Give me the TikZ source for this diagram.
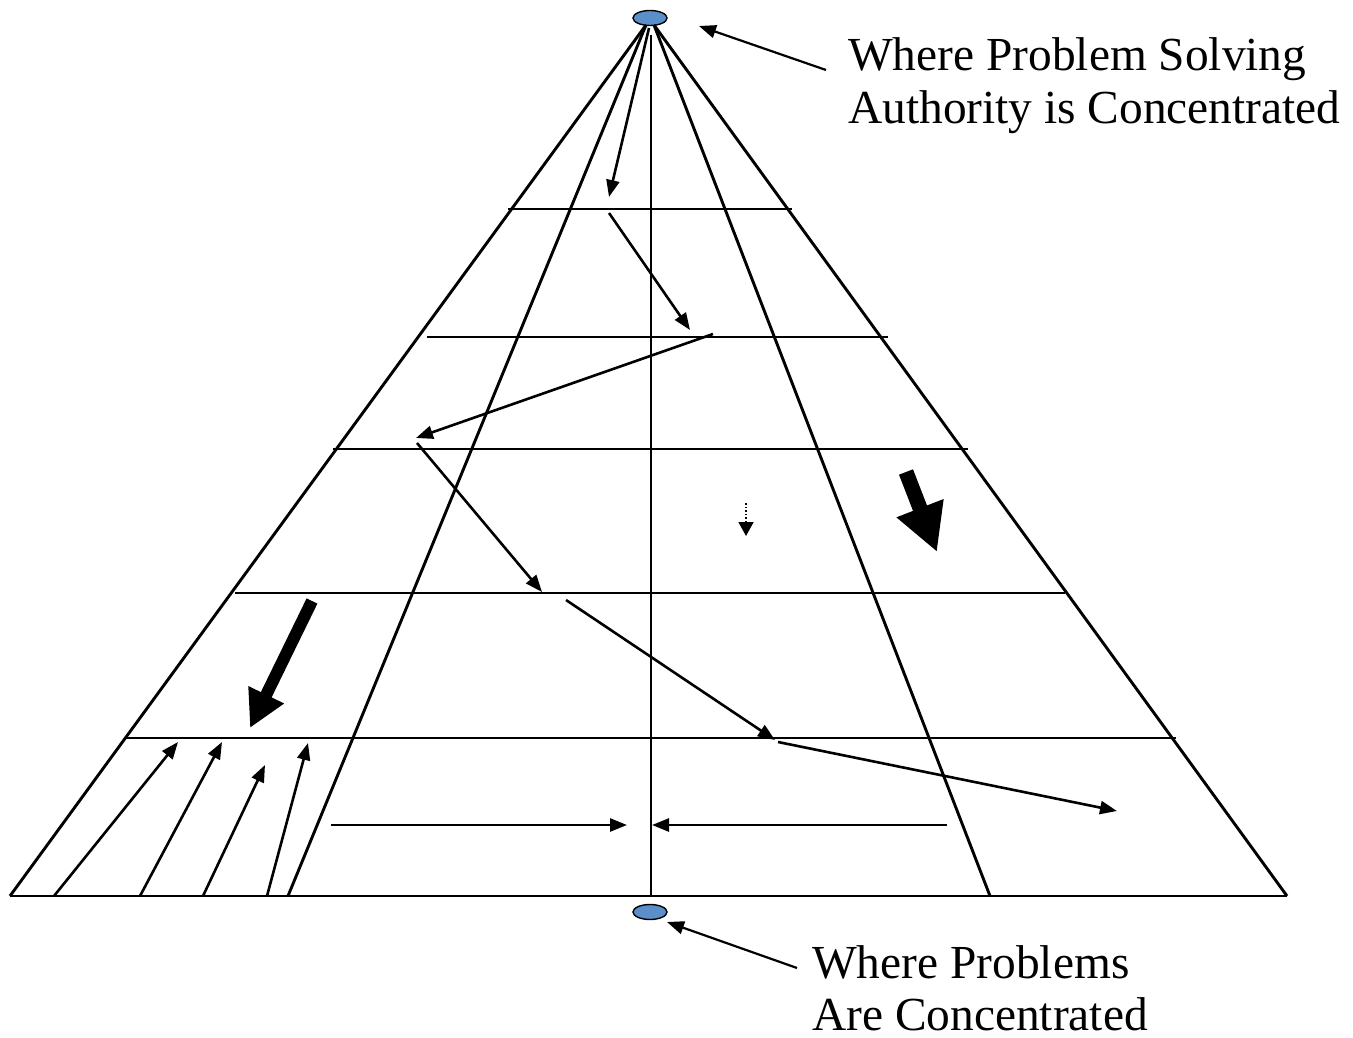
\documentclass[tikz,border=0pt]{standalone}
\usepackage{fontspec}
\setmainfont{Liberation Serif}
\usetikzlibrary{arrows.meta,shapes.geometric}
\definecolor{blobblue}{RGB}{91,143,201}
\begin{document}
\begin{tikzpicture}[x=1pt,y=-1pt,
  ln/.style={line width=2.9pt},
  arr/.style={line width=2.6pt,-{Triangle[length=17pt,width=13pt]}},
  thinarr/.style={line width=2.2pt,-{Triangle[length=17pt,width=13pt]}},
  blob/.style={ellipse,draw,line width=1.4pt,fill=blobblue,minimum width=34pt,minimum height=15pt,inner sep=0pt},
  lbl/.style={anchor=base west,inner sep=0pt,font=\fontsize{47.4}{53}\selectfont}
]
\useasboundingbox (0,0) rectangle (1353,1038);

% key points
\node[blob] (top) at (650,18) {};
\node[blob] (bot) at (650,912) {};
\coordinate (aL) at (646,25);
\coordinate (aR) at (654,25);
\coordinate (aM) at (651,35);
\coordinate (a1) at (649,28);
\coordinate (bL) at (10,896);
\coordinate (bR) at (1287,896);
\coordinate (biL) at (288,896);
\coordinate (biR) at (990,896);
\coordinate (bM) at (651,896);

% pyramid frame
\draw[ln] (aL) -- (bL);
\draw[ln] (aR) -- (bR);
\draw[ln] (aL) -- (biL);
\draw[ln] (aR) -- (biR);
\draw[ln] (aM) -- (bM);
\draw[ln] (bL) -- (bR);

% horizontal levels
\coordinate (h1l) at (508,209); \coordinate (h1r) at (792,209);
\coordinate (h2l) at (427,337); \coordinate (h2r) at (888,337);
\coordinate (h3l) at (333,449); \coordinate (h3r) at (968,449);
\coordinate (h4l) at (235,593); \coordinate (h4r) at (1065,593);
\coordinate (h5l) at (124,738); \coordinate (h5r) at (1176,738);
\draw[ln] (h1l) -- (h1r);
\draw[ln] (h2l) -- (h2r);
\draw[ln] (h3l) -- (h3r);
\draw[ln] (h4l) -- (h4r);
\draw[ln] (h5l) -- (h5r);

% zig-zag path of problem solving
\coordinate (p1) at (609,197);
\coordinate (p2s) at (609,213); \coordinate (p2) at (690,330);
\coordinate (p3s) at (713,334); \coordinate (p3) at (416,438);
\coordinate (p4s) at (417,443); \coordinate (p4) at (542,592);
\coordinate (p5s) at (566,600); \coordinate (p5) at (775,740);
\coordinate (p6s) at (778,742); \coordinate (p6) at (1117,811);
\draw[arr] (a1) -- (p1);
\draw[arr] (p2s) -- (p2);
\draw[arr] (p3s) -- (p3);
\draw[arr] (p4s) -- (p4);
\draw[arr] (p5s) -- (p5);
\draw[arr] (p6s) -- (p6);

% small dotted arrow
\coordinate (d1) at (746,503); \coordinate (d2) at (746,536);
\draw[line width=1.6pt,dotted,-{Triangle[length=14pt,width=15pt]}] (d1) -- (d2);

% big arrows
\coordinate (bg1s) at (906,472); \coordinate (bg1) at (937,552);
\draw[line width=15pt,-{Triangle[length=47pt,width=47pt]}] (bg1s) -- (bg1);
\coordinate (bg2s) at (312,601); \coordinate (bg2) at (250,728);
\draw[line width=12pt,-{Triangle[length=37pt,width=37pt]}] (bg2s) -- (bg2);

% fan arrows at the bottom
\coordinate (f1s) at (54,896);  \coordinate (f1) at (178,742);
\coordinate (f2s) at (140,896); \coordinate (f2) at (222,742);
\coordinate (f3s) at (203,896); \coordinate (f3) at (265,765);
\coordinate (f4s) at (267,896); \coordinate (f4) at (308,743);
\draw[arr] (f1s) -- (f1);
\draw[arr] (f2s) -- (f2);
\draw[arr] (f3s) -- (f3);
\draw[arr] (f4s) -- (f4);

% horizontal converging arrows
\coordinate (c1s) at (331,825); \coordinate (c1) at (627,825);
\coordinate (c2s) at (947,825); \coordinate (c2) at (652,825);
\draw[arr] (c1s) -- (c1);
\draw[arr] (c2s) -- (c2);

% labels
\node[lbl] (t1) at (848,71) {Where Problem Solving};
\node[lbl] (t2) at (848,124) {Authority is Concentrated};
\node[lbl] (t3) at (812,978) {Where Problems};
\node[lbl] (t4) at (812,1030) {Are Concentrated};
\coordinate (l1s) at (826,70); \coordinate (l1) at (699,26);
\coordinate (l2s) at (797,968); \coordinate (l2) at (667,922);
\draw[thinarr] (l1s) -- (l1);
\draw[thinarr] (l2s) -- (l2);
\end{tikzpicture}
\end{document}
